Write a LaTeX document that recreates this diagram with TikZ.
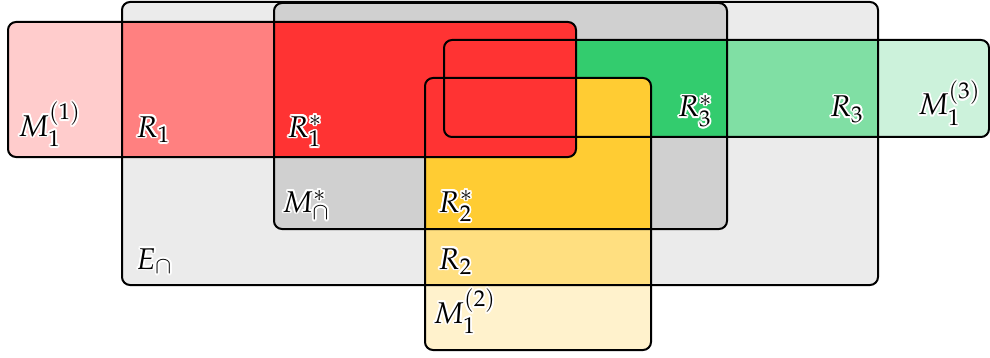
\documentclass[tikz,border=0pt]{standalone}
\usepackage{mathpazo}
\usepackage{contour}
\contourlength{0.9pt}
\definecolor{gA}{RGB}{235,235,235}
\definecolor{gB}{RGB}{208,208,208}
\definecolor{rbase}{RGB}{255,0,0}
\definecolor{gbase}{RGB}{0,191,74}
\definecolor{ybase}{RGB}{255,191,0}
\tikzset{
  outline/.style={draw=black, line width=1pt, rounded corners=4pt},
  box/.style={rounded corners=4pt},
  lab/.style={inner sep=0pt, font=\fontsize{15}{18}\selectfont},
}
\begin{document}
\begin{tikzpicture}[x=0.5pt, y=-0.5pt]
\useasboundingbox (0,0) rectangle (990,358);
% corners
\coordinate (E1) at (122,2);   \coordinate (E2) at (878,285);
\coordinate (S1) at (274,3);   \coordinate (S2) at (727,229);
\coordinate (R1) at (8,22);    \coordinate (R2) at (576,157);
\coordinate (G1) at (444,40);  \coordinate (G2) at (989,137);
\coordinate (Y1) at (425,78);  \coordinate (Y2) at (651,350);
% gray sets
\fill[gA, box] (E1) rectangle (E2);
\fill[gB, box] (S1) rectangle (S2);
% green
\fill[gbase!20, box] (G1) rectangle (G2);
\begin{scope}
  \clip[box] (E1) rectangle (E2);
  \fill[gbase!50, box] (G1) rectangle (G2);
  \clip[box] (S1) rectangle (S2);
  \fill[gbase!80, box] (G1) rectangle (G2);
\end{scope}
% yellow
\fill[ybase!20, box] (Y1) rectangle (Y2);
\begin{scope}
  \clip[box] (E1) rectangle (E2);
  \fill[ybase!50, box] (Y1) rectangle (Y2);
  \clip[box] (S1) rectangle (S2);
  \fill[ybase!80, box] (Y1) rectangle (Y2);
\end{scope}
% red
\fill[rbase!20, box] (R1) rectangle (R2);
\begin{scope}
  \clip[box] (E1) rectangle (E2);
  \fill[rbase!50, box] (R1) rectangle (R2);
  \clip[box] (S1) rectangle (S2);
  \fill[rbase!80, box] (R1) rectangle (R2);
\end{scope}
% outlines
\draw[outline] (E1) rectangle (E2);
\draw[outline] (S1) rectangle (S2);
\draw[outline] (G1) rectangle (G2);
\draw[outline] (Y1) rectangle (Y2);
\draw[outline] (R1) rectangle (R2);
% labels
\node[lab, anchor=base west] (lM1) at (18,136) {\contour{white}{$M_1^{(1)}$}};
\node[lab, anchor=base west] (lR1) at (136,137) {\contour{white}{$R_1$}};
\node[lab, anchor=base west] (lR1s) at (287,137) {\contour{white}{$R_1^*$}};
\node[lab, anchor=base east] (lR3s) at (713,117) {\contour{white}{$R_3^*$}};
\node[lab, anchor=base east] (lR3) at (864,117) {\contour{white}{$R_3$}};
\node[lab, anchor=base east] (lM3) at (981,115) {\contour{white}{$M_1^{(3)}$}};
\node[lab, anchor=base west] (lMs) at (282,212) {\contour{white}{$M_\cap^*$}};
\node[lab, anchor=base west] (lR2s) at (438,212) {\contour{white}{$R_2^*$}};
\node[lab, anchor=base west] (lE) at (136,269) {\contour{white}{$E_\cap$}};
\node[lab, anchor=base west] (lR2) at (438,269) {\contour{white}{$R_2$}};
\node[lab, anchor=base west] (lM2) at (433,323) {\contour{white}{$M_1^{(2)}$}};
\end{tikzpicture}
\end{document}
